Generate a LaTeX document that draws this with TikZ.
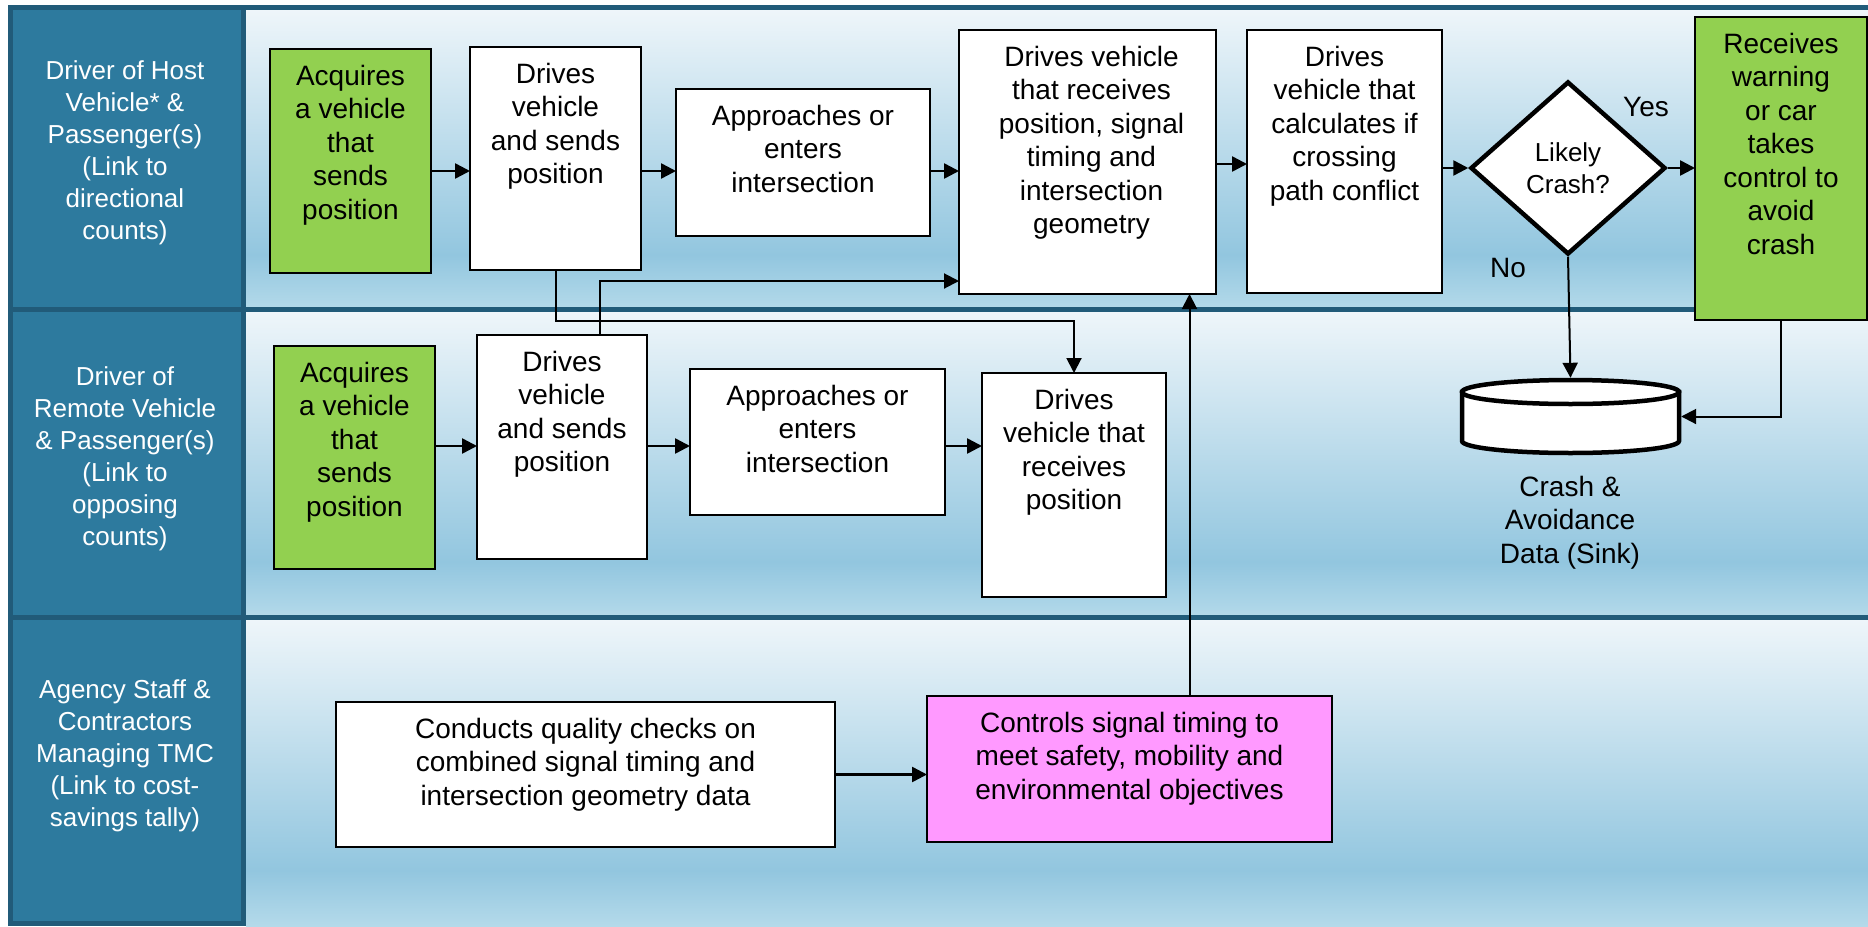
\documentclass[tikz,border=0pt]{standalone}
\usepackage{fontspec}
\setmainfont{Liberation Sans}
\usetikzlibrary{shapes.geometric,arrows.meta,calc}
\definecolor{hdr}{HTML}{2D7A9E}
\definecolor{hdrdark}{HTML}{215B79}
\definecolor{lanetop}{HTML}{EFF6FA}
\definecolor{lanemid}{HTML}{92C6DF}
\definecolor{lanebot}{HTML}{B4DAEA}
\definecolor{actgreen}{HTML}{92D050}
\definecolor{actpink}{HTML}{FF99FF}

\begin{document}
\begin{tikzpicture}[x=1pt,y=-1pt,
  box/.style={draw=black, line width=2pt, fill=white, inner sep=0pt, outer sep=0pt},
  greenbox/.style={box, fill=actgreen},
  pinkbox/.style={box, fill=actpink},
  txt/.style={anchor=north, align=center, inner sep=0pt, font=\fontsize{28}{33.5}\selectfont},
  lbl/.style={inner sep=0pt, font=\fontsize{28}{33.5}\selectfont},
  hdrtxt/.style={align=center, text=white, inner sep=0pt, font=\fontsize{26}{32}\selectfont},
  flow/.style={line width=2.5pt, -{Triangle[length=15pt,width=15pt]}},
  link/.style={line width=2pt, -{Triangle[length=15pt,width=15pt]}},
]
\useasboundingbox (0,0) rectangle (1868,926);
\fill[white] (0,0) rectangle (1868,926);

% swim lanes: shaded content area, header cell, separators
\foreach \t/\b in {7.5/309.5, 309.5/617.5, 617.5/926}{
  \pgfmathsetmacro\m{\t+0.82*(\b-\t)}
  \shade[top color=lanetop, bottom color=lanemid] (246,\t) rectangle (1868,\m);
  \shade[top color=lanemid, bottom color=lanebot] (246,\m) rectangle (1868,\b);
}
\foreach \t/\b in {7.5/309.5, 309.5/617.5, 617.5/923.5}{
  \draw[hdrdark, fill=hdr, line width=5pt] (10.5,\t) rectangle (243.5,\b);
}
\foreach \t in {7.5, 309.5, 617.5}{
  \draw[hdrdark, line width=5pt] (8,\t) -- (1868,\t);
}

% lane titles
\node[hdrtxt] (h1) at (125,153) {Driver of Host\\Vehicle* \&\\Passenger(s)\\(Link to\\directional\\counts)};
\node[hdrtxt] (h2) at (125,459) {Driver of\\Remote Vehicle\\\& Passenger(s)\\(Link to\\opposing\\counts)};
\node[hdrtxt] (h3) at (125,756) {Agency Staff \&\\Contractors\\Managing TMC\\(Link to cost-\\savings tally)};

% host vehicle lane
\node[greenbox, minimum width=161pt, minimum height=224pt] (g1) at (350.5,161) {};
\node[txt] (g1t) at ([yshift=-16pt]g1.north) {Acquires\\a vehicle\\that\\sends\\position};
\node[box, minimum width=171pt, minimum height=223pt] (w1) at (555.5,158.5) {};
\node[txt] (w1t) at ([yshift=-16pt]w1.north) {Drives\\vehicle\\and sends\\position};
\node[box, minimum width=254pt, minimum height=147pt] (app1) at (803,162.5) {};
\node[txt] (app1t) at ([yshift=-16pt]app1.north) {Approaches or\\enters\\intersection};
\node[box, minimum width=257pt, minimum height=264pt] (dr1) at (1087.5,162) {};
\node[txt] (dr1t) at ([yshift=-16pt,xshift=4pt]dr1.north) {Drives vehicle\\that receives\\position, signal\\timing and\\intersection\\geometry};
\node[box, minimum width=195pt, minimum height=263pt] (calc) at (1344.5,161.5) {};
\node[txt] (calct) at ([yshift=-16pt]calc.north) {Drives\\vehicle that\\calculates if\\crossing\\path conflict};
\node[draw=black, fill=white, diamond, line width=4.5pt, minimum width=195pt, minimum height=173pt,
      inner sep=0pt, align=center, font=\fontsize{26}{32}\selectfont] (dia) at (1568,168) {Likely\\Crash?};
\node[greenbox, minimum width=172pt, minimum height=303pt] (recv) at (1781,168.5) {};
\node[txt] (recvt) at ([yshift=-16pt]recv.north) {Receives\\warning\\or car\\takes\\control to\\avoid\\crash};
\node[lbl] (yes) at (1646,107) {Yes};
\node[lbl] (no) at (1508,268) {No};

% remote vehicle lane
\node[greenbox, minimum width=161pt, minimum height=223pt] (g2) at (354.5,457.5) {};
\node[txt] (g2t) at ([yshift=-16pt]g2.north) {Acquires\\a vehicle\\that\\sends\\position};
\node[box, minimum width=170pt, minimum height=224pt] (w2) at (562,447) {};
\node[txt] (w2t) at ([yshift=-16pt]w2.north) {Drives\\vehicle\\and sends\\position};
\node[box, minimum width=255pt, minimum height=146pt] (app2) at (817.5,442) {};
\node[txt] (app2t) at ([yshift=-16pt]app2.north) {Approaches or\\enters\\intersection};
\node[box, minimum width=184pt, minimum height=224pt] (dr2) at (1074,485) {};
\node[txt] (dr2t) at ([yshift=-16pt]dr2.north) {Drives\\vehicle that\\receives\\position};

% data sink (cylinder)
\node[minimum width=221pt, minimum height=77pt, inner sep=0pt] (sink) at (1570.5,416.5) {};
\draw[line width=4.5pt, fill=white] (1462,392) -- (1462,441)
  arc[start angle=180, end angle=360, x radius=108.5pt, y radius=12pt] -- (1679,392) -- cycle;
\draw[line width=4.5pt, fill=white] (1570.5,392) ellipse [x radius=108.5pt, y radius=12pt];
\node[txt] (sinkt) at (1570,476) {Crash \&\\Avoidance\\Data (Sink)};

% agency lane
\node[box, minimum width=499pt, minimum height=145pt] (cq) at (585.5,774.5) {};
\node[txt] (cqt) at ([yshift=-16pt]cq.north) {Conducts quality checks on\\combined signal timing and\\intersection geometry data};
\node[pinkbox, minimum width=405pt, minimum height=146pt] (pink) at (1129.5,769) {};
\node[txt] (pinkt) at ([yshift=-16pt]pink.north) {Controls signal timing to\\meet safety, mobility and\\environmental objectives};

% row connectors
\coordinate (r1) at (0,171);
\coordinate (r1b) at (0,164);
\coordinate (r2) at (0,446);
\draw[flow] (g1.east |- r1) -- (w1.west |- r1);
\draw[flow] (w1.east |- r1) -- (app1.west |- r1);
\draw[flow] (app1.east |- r1) -- (dr1.west |- r1);
\draw[flow] (dr1.east |- r1b) -- (calc.west |- r1b);
\draw[flow] (calc.east |- dia.west) -- (dia.west);
\draw[flow] (dia.east) -- (recv.west |- dia.east);
\draw[flow] (g2.east |- r2) -- (w2.west |- r2);
\draw[flow] (w2.east |- r2) -- (app2.west |- r2);
\draw[flow] (app2.east |- r2) -- (dr2.west |- r2);
\draw[flow] (cq.east) -- (cq.east -| pink.west);

% cross-lane connectors
\draw[link] (w1.south) -- ++(0,51) -| (dr2.north);
\draw[link] ([xshift=38pt]w2.north) |- ([yshift=13pt]dr1.south west);
\draw[link] ([xshift=60pt]pink.north) -- ([xshift=60pt]pink.north |- dr1.south);
\draw[link] (dia.south) -- (sink.north);
\draw[link] (recv.south) |- (sink.east);
\end{tikzpicture}
\end{document}
